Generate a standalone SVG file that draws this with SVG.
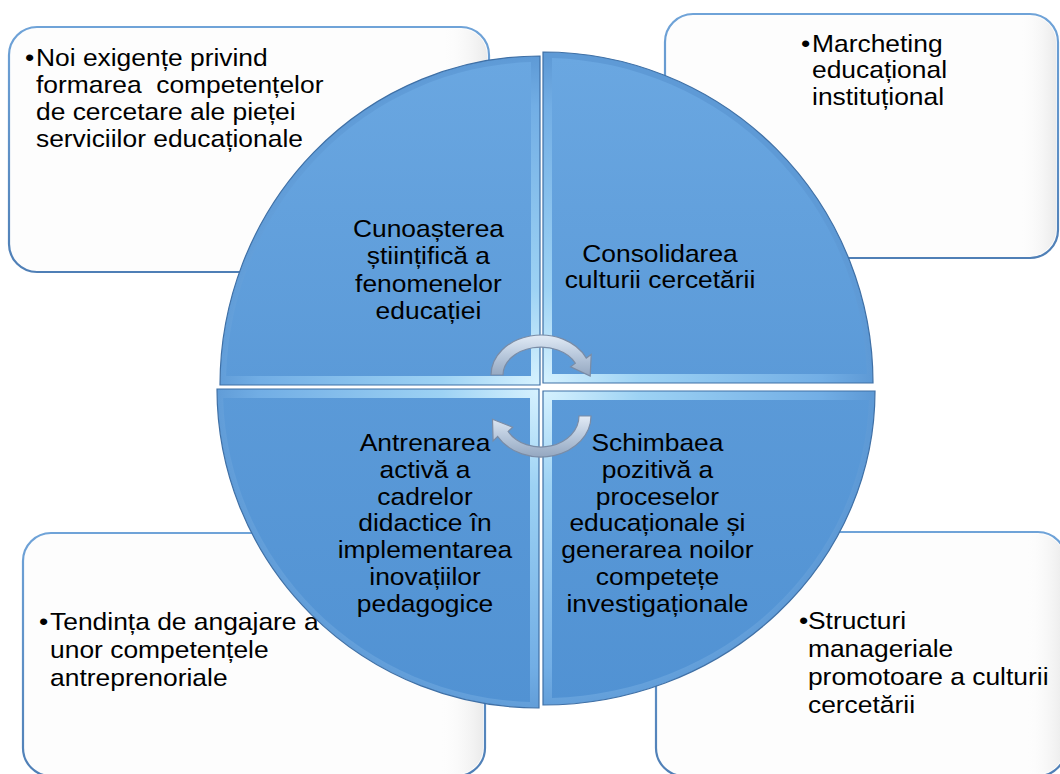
<svg xmlns="http://www.w3.org/2000/svg" width="1060" height="774" viewBox="0 0 1060 774">
<style>
.box{fill:#fdfdfd;stroke:url(#boxStroke);stroke-width:2.2}
.t{font-family:"Liberation Sans",Arial,sans-serif;font-size:24px;fill:#000}
.c{text-anchor:middle}
.q{stroke:#3f70a6;stroke-width:1.2;fill:url(#bevel)}
.qi{fill:url(#qfill)}
.arr{fill:url(#arrFill);stroke:#7a8ca6;stroke-width:1.2}
</style>
<defs>
<linearGradient id="boxStroke" x1="0" y1="0" x2="0" y2="1">
<stop offset="0" stop-color="#6fa3d8"/><stop offset="1" stop-color="#4f7fb6"/>
</linearGradient>
<linearGradient id="boxShade" x1="0" y1="0" x2="1" y2="0">
<stop offset="0.9" stop-color="#ffffff" stop-opacity="0"/><stop offset="1" stop-color="#e6e6e6" stop-opacity="0.8"/>
</linearGradient>
<radialGradient id="bevel" gradientUnits="userSpaceOnUse" cx="541" cy="387" r="330">
<stop offset="0" stop-color="#d8f3ff"/><stop offset="0.3" stop-color="#9dd2f4"/><stop offset="0.85" stop-color="#72aee5"/><stop offset="1" stop-color="#5e9ad6"/>
</radialGradient>
<linearGradient id="qfill" gradientUnits="userSpaceOnUse" x1="0" y1="56" x2="0" y2="708">
<stop offset="0" stop-color="#6aa7e1"/><stop offset="0.5" stop-color="#5b9ad8"/><stop offset="1" stop-color="#5192d3"/>
</linearGradient>
<linearGradient id="arrFill" x1="0" y1="0" x2="0" y2="1">
<stop offset="0" stop-color="#e2ebf6"/><stop offset="0.5" stop-color="#b8c8dc"/><stop offset="1" stop-color="#94a7c0"/>
</linearGradient>
</defs>
<rect width="1060" height="774" fill="#ffffff"/>

<g id="box-tl">
<rect class="box" x="9" y="27" width="480" height="245" rx="28"/>
<rect x="11" y="29" width="476" height="241" rx="26" fill="url(#boxShade)"/>
<g transform="scale(1.1 1)">
<text class="t" x="22.7" y="65.7">•</text>
<text class="t" x="32.7" y="65.7">Noi exigențe privind</text>
<text class="t" x="32.7" y="92.7" xml:space="preserve">formarea  competențelor</text>
<text class="t" x="32.7" y="119.7">de cercetare ale pieței</text>
<text class="t" x="32.7" y="146.7">serviciilor educaționale</text>
</g>
</g>

<g id="box-tr">
<rect class="box" x="665" y="14" width="393" height="244" rx="28"/>
<rect x="667" y="16" width="389" height="240" rx="26" fill="url(#boxShade)"/>
<g transform="scale(1.1 1)">
<text class="t" x="728.2" y="51.7">•</text>
<text class="t" x="738.2" y="51.7">Marcheting</text>
<text class="t" x="738.2" y="78.3">educațional</text>
<text class="t" x="738.2" y="105">instituțional</text>
</g>
</g>

<g id="box-bl">
<rect class="box" x="23" y="533" width="462" height="243" rx="28"/>
<rect x="25" y="535" width="458" height="239" rx="26" fill="url(#boxShade)"/>
<g transform="scale(1.1 1)">
<text class="t" x="35.5" y="630">•</text>
<text class="t" x="45.5" y="630">Tendința de angajare a</text>
<text class="t" x="45.5" y="658">unor competențele</text>
<text class="t" x="45.5" y="685.7">antreprenoriale</text>
</g>
</g>

<g id="box-br">
<rect class="box" x="656" y="532" width="410" height="244" rx="28"/>
<rect x="658" y="534" width="406" height="240" rx="26" fill="url(#boxShade)"/>
<g transform="scale(1.1 1)">
<text class="t" x="726.4" y="629">•</text>
<text class="t" x="734.5" y="629">Structuri</text>
<text class="t" x="734.5" y="657">manageriale</text>
<text class="t" x="734.5" y="685">promotoare a culturii</text>
<text class="t" x="734.5" y="713">cercetării</text>
</g>
</g>

<g id="q-tl">
<path class="q" d="M540,385 H220 A320,329 0 0 1 540,56 Z"/>
<path class="qi" d="M531,376 H226.1 A314,323 0 0 1 531,62.1 Z"/>
<g transform="scale(1.1 1)">
<text class="t c" x="389.5" y="237">Cunoașterea</text>
<text class="t c" x="389.5" y="264.5">științifică a</text>
<text class="t c" x="389.5" y="292">fenomenelor</text>
<text class="t c" x="389.5" y="319">educației</text>
</g>
</g>

<g id="q-tr">
<path class="q" d="M543,383 V52 A330,331 0 0 1 873,383 Z"/>
<path class="qi" d="M552,374 V58.1 A324,325 0 0 1 866.9,374 Z"/>
<g transform="scale(1.1 1)">
<text class="t c" x="600" y="262">Consolidarea</text>
<text class="t c" x="600" y="288.5">culturii cercetării</text>
</g>
</g>

<g id="q-bl">
<path class="q" d="M539,389 V708 A322,319 0 0 1 217,389 Z"/>
<path class="qi" d="M530,398 V701.9 A316,313 0 0 1 223.1,398 Z"/>
<g transform="scale(1.1 1)">
<text class="t c" x="386.4" y="451">Antrenarea</text>
<text class="t c" x="386.4" y="477.8">activă a</text>
<text class="t c" x="386.4" y="504.6">cadrelor</text>
<text class="t c" x="386.4" y="531.4">didactice în</text>
<text class="t c" x="386.4" y="558.2">implementarea</text>
<text class="t c" x="386.4" y="585">inovațiilor</text>
<text class="t c" x="386.4" y="611.8">pedagogice</text>
</g>
</g>

<g id="q-br">
<path class="q" d="M543,391 H875 A332,314 0 0 1 543,705 Z"/>
<path class="qi" d="M552,400 H868.9 A326,307 0 0 1 552,697.9 Z"/>
<g transform="scale(1.1 1)">
<text class="t c" x="597.7" y="451">Schimbaea</text>
<text class="t c" x="597.7" y="477.8">pozitivă a</text>
<text class="t c" x="597.7" y="504.6">proceselor</text>
<text class="t c" x="597.7" y="531.4">educaționale și</text>
<text class="t c" x="597.7" y="558.2">generarea noilor</text>
<text class="t c" x="597.7" y="585">competețe</text>
<text class="t c" x="597.7" y="611.8">investigaționale</text>
</g>
</g>

<g id="connectors">
<path class="arr" d="M491,375 A50,40 0 0 1 586.3,358.1 L591.2,354.4 L590.2,376 L570.6,366.8 L575.4,363.2 A38,28 0 0 0 503,375 Z"/>
<path class="arr" d="M591,416 A50,41 0 0 1 497.7,436.5 L493.1,440.9 L492.5,419.3 L512.7,427.1 L508.1,431.5 A38,31 0 0 0 579,416 Z"/>
</g>
</svg>
